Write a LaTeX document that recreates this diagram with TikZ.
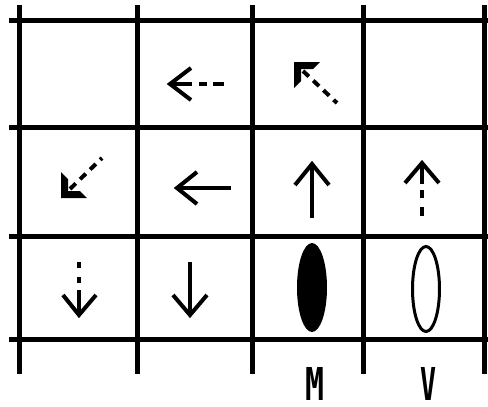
\documentclass[tikz,border=0pt]{standalone}
\usepackage{graphicx}
\usepackage{fontspec}
\newfontfamily\lblfont{DejaVu Sans Mono}
\begin{document}
\begin{tikzpicture}[x=1pt,y=-1pt,
  gridline/.style={line width=5pt},
  arr/.style={line width=4pt},
  dsh/.style={line width=4.5pt},
  diagdash/.style={line width=4pt,dash pattern=on 8pt off 6pt},
  lbl/.style={inner sep=0pt,font=\lblfont\bfseries}]
\useasboundingbox (0,0) rectangle (488,407);
% grid
\foreach \y in {20,127,236,339} \draw[gridline] (9,\y) -- (488,\y);
\foreach \x in {19.5,137,252,363.5,484} \draw[gridline] (\x,5) -- (\x,374);
% row 1, col 2: dashed left arrow
\draw[arr] (191,68) -- (170,84) -- (191,100);
\draw[arr] (170,84) -- (192,84);
\draw[dsh] (199,84) -- (207,84);
\draw[dsh] (213,84) -- (224,84);
% row 1, col 3: dashed NW arrow
\fill (294,62) -- ++(26,0) -- ++(-7,7) -- ++(-12,0) -- ++(0,12) -- ++(-7,7) -- cycle;
\draw[diagdash] (303,71) -- (337,103);
% row 2, col 1: dashed SW arrow
\fill (61,198) -- ++(0,-26) -- ++(7,7) -- ++(0,12) -- ++(12,0) -- ++(7,7) -- cycle;
\draw[diagdash] (70,189) -- (102,158);
% row 2, col 2: solid left arrow
\draw[arr] (197,172) -- (177,188) -- (197,204);
\draw[arr] (177,188) -- (231,188);
% row 2, col 3: solid up arrow
\draw[arr] (295,185) -- (312,164) -- (329,185);
\draw[arr] (312,164) -- (312,218);
% row 2, col 4: dashed up arrow
\draw[arr] (405,183) -- (422,163) -- (439,183);
\draw[arr] (422,163) -- (422,184);
\draw[dsh] (422,190) -- (422,198);
\draw[dsh] (422,207) -- (422,216);
% row 3, col 1: dashed down arrow
\draw[dsh] (79,262) -- (79,268);
\draw[dsh] (79,277) -- (79,283);
\draw[arr] (79,290) -- (79,315);
\draw[arr] (63,295) -- (79,315) -- (96,295);
% row 3, col 2: solid down arrow
\draw[arr] (190,262) -- (190,315);
\draw[arr] (173,295) -- (190,315) -- (207,295);
% row 3, col 3 and 4: ellipses
\fill (312,287.5) ellipse [x radius=15, y radius=44.5];
\draw[line width=3pt] (426,289) ellipse [x radius=13.5, y radius=42.5];
% labels
\node[lbl] (m) at (315,384) {\resizebox{19pt}{33pt}{M}};
\node[lbl] (v) at (428.5,384) {\resizebox{16pt}{33pt}{V}};
\end{tikzpicture}
\end{document}
